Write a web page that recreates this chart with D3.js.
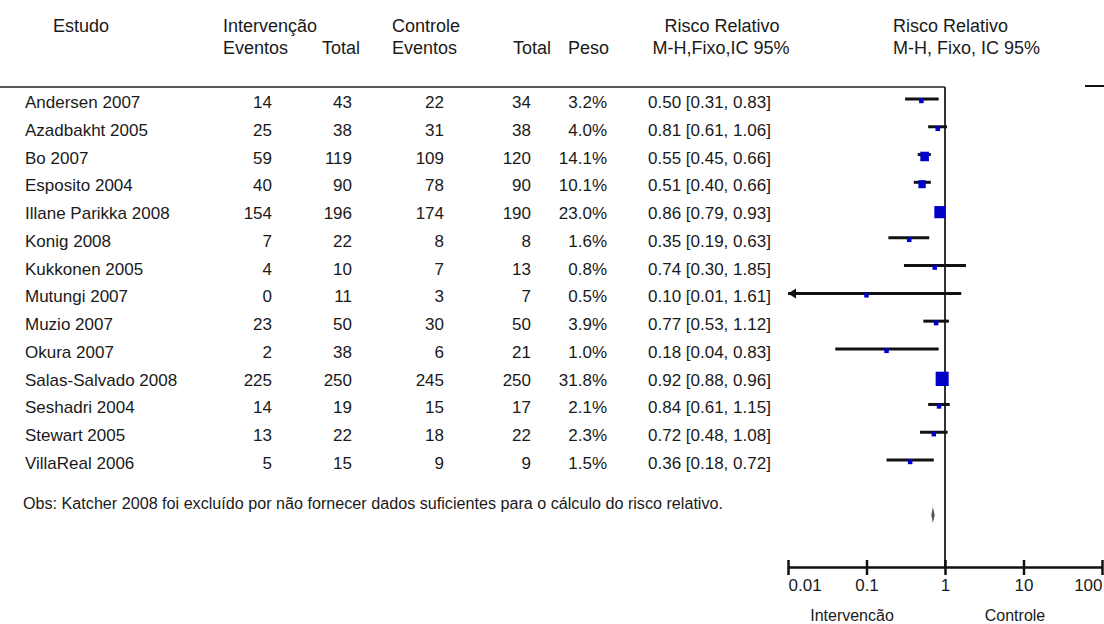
<html>
<head>
<meta charset="utf-8">
<title>Risco Relativo - forest plot</title>
<script src="https://d3js.org/d3.v7.min.js"></script>
<style>
body { margin: 0; background: #fff; }
text { font-family: "Liberation Sans", Arial, sans-serif; fill: #1a1a1a; }
</style>
</head>
<body>
<script>

// dados
var studies = ["Andersen 2007","Azadbakht 2005","Bo 2007","Esposito 2004","Illane Parikka 2008",
               "Konig 2008","Kukkonen 2005","Mutungi 2007","Muzio 2007","Okura 2007",
               "Salas-Salvado 2008","Seshadri 2004","Stewart 2005","VillaReal 2006"];
var evI  = [14, 25, 59, 40, 154, 7, 4, 0, 23, 2, 225, 14, 13, 5];
var totI = [43, 38, 119, 90, 196, 22, 10, 11, 50, 38, 250, 19, 22, 15];
var evC  = [22, 31, 109, 78, 174, 8, 7, 3, 30, 6, 245, 15, 18, 9];
var totC = [34, 38, 120, 90, 190, 8, 13, 7, 50, 21, 250, 17, 22, 9];
var peso = [3.2, 4.0, 14.1, 10.1, 23.0, 1.6, 0.8, 0.5, 3.9, 1.0, 31.8, 2.1, 2.3, 1.5];
var rr   = [0.50, 0.81, 0.55, 0.51, 0.86, 0.35, 0.74, 0.10, 0.77, 0.18, 0.92, 0.84, 0.72, 0.36];
var rrLo = [0.31, 0.61, 0.45, 0.40, 0.79, 0.19, 0.30, 0.01, 0.53, 0.04, 0.88, 0.61, 0.48, 0.18];
var rrHi = [0.83, 1.06, 0.66, 0.66, 0.93, 0.63, 1.85, 1.61, 1.12, 0.83, 0.96, 1.15, 1.08, 0.72];
var pooled = [0.70, 0.67, 0.74];   // estimativa, limite inferior, limite superior
var axisTicks = [0.01, 0.1, 1, 10, 100];

var svg = d3.select("body").append("svg")
            .attr("width", 1104)
            .attr("height", 624);

var x = d3.scaleLog().domain([0.01, 100]).range([788, 1102]);
var y = d3.scalePoint().domain(studies).range([108, 469]);   // linha de base do texto
var side = d3.scaleSqrt().domain([0, 31.8]).range([0, 13]);
var f2 = d3.format(".2f");

// cabecalho
var head = svg.append("g").style("font-size", "18px");
head.append("text").attr("x", 53).attr("y", 32).text("Estudo");
head.append("text").attr("x", 223).attr("y", 32).text("Intervenção");
head.append("text").attr("x", 223).attr("y", 54).text("Eventos");
head.append("text").attr("x", 360).attr("y", 54).attr("text-anchor", "end").text("Total");
head.append("text").attr("x", 392).attr("y", 32).text("Controle");
head.append("text").attr("x", 392).attr("y", 54).text("Eventos");
head.append("text").attr("x", 551).attr("y", 54).attr("text-anchor", "end").text("Total");
head.append("text").attr("x", 568).attr("y", 54).text("Peso");
head.append("text").attr("x", 722).attr("y", 32).attr("text-anchor", "middle").text("Risco Relativo");
head.append("text").attr("x", 721).attr("y", 54).attr("text-anchor", "middle").text("M-H,Fixo,IC 95%");
head.append("text").attr("x", 893).attr("y", 32).text("Risco Relativo");
head.append("text").attr("x", 893).attr("y", 54).text("M-H, Fixo, IC 95%");

// linhas de referencia
svg.append("line").attr("x1", 0).attr("x2", x(1)).attr("y1", 87).attr("y2", 87)
   .attr("stroke", "#222").attr("stroke-width", 1.5);
svg.append("line").attr("x1", 1085).attr("x2", 1104).attr("y1", 86).attr("y2", 86)
   .attr("stroke", "#111").attr("stroke-width", 2);
svg.append("line").attr("x1", x(1)).attr("x2", x(1)).attr("y1", 87).attr("y2", 567)
   .attr("stroke", "#333").attr("stroke-width", 2);

// tabela
var rows = svg.append("g").style("font-size", "17px")
              .selectAll("g").data(studies).enter().append("g")
              .attr("transform", function(d){ return "translate(0," + y(d) + ")"; });

rows.append("text").attr("x", 25).text(function(d){ return d; });
rows.append("text").attr("x", 272).attr("text-anchor", "end").text(function(d,i){ return evI[i]; });
rows.append("text").attr("x", 352).attr("text-anchor", "end").text(function(d,i){ return totI[i]; });
rows.append("text").attr("x", 444).attr("text-anchor", "end").text(function(d,i){ return evC[i]; });
rows.append("text").attr("x", 531).attr("text-anchor", "end").text(function(d,i){ return totC[i]; });
rows.append("text").attr("x", 607).attr("text-anchor", "end").text(function(d,i){ return peso[i].toFixed(1) + "%"; });
rows.append("text").attr("x", 648)
    .text(function(d,i){ return f2(rr[i]) + " [" + f2(rrLo[i]) + ", " + f2(rrHi[i]) + "]"; });

// intervalos de confianca
rows.append("line")
    .attr("x1", function(d,i){ return x(Math.max(rrLo[i], 0.01)); })
    .attr("x2", function(d,i){ return x(rrHi[i]); })
    .attr("y1", -9).attr("y2", -9)
    .attr("stroke", "#111").attr("stroke-width", 3);

// seta quando o limite sai da escala
rows.filter(function(d,i){ return rrLo[i] <= 0.01; })
    .append("path")
    .attr("d", function(){ var x0 = x(0.01); return "M" + x0 + ",-9 L" + (x0 + 8) + ",-14 L" + (x0 + 8) + ",-4 Z"; })
    .attr("fill", "#111");

// quadrados (area proporcional ao peso)
rows.append("rect")
    .attr("x", function(d,i){ return x(rr[i]) - Math.max(4.5, side(peso[i])) / 2; })
    .attr("y", function(d,i){ return -7.5 - Math.max(4.5, side(peso[i])) / 2; })
    .attr("width", function(d,i){ return Math.max(4.5, side(peso[i])); })
    .attr("height", function(d,i){ return Math.max(4.5, side(peso[i])) * 1.1; })
    .attr("fill", "#0000c8");

// estimativa combinada
var dy = 515;
svg.append("path")
   .attr("d", "M" + x(pooled[1]) + "," + dy + " L" + x(pooled[0]) + "," + (dy - 8) +
              " L" + x(pooled[2]) + "," + dy + " L" + x(pooled[0]) + "," + (dy + 8) + " Z")
   .attr("fill", "#555");

// observacao
svg.append("text").attr("x", 23).attr("y", 509)
   .style("font-size", "16px")
   .attr("textLength", 700).attr("lengthAdjust", "spacingAndGlyphs")
   .text("Obs: Katcher 2008 foi excluído por não fornecer dados suficientes para o cálculo do risco relativo.");

// eixo
var axis = d3.axisBottom(x).tickValues(axisTicks)
             .tickFormat(function(d){ return String(d); })
             .tickSizeOuter(0).tickSizeInner(8);
var gx = svg.append("g").attr("transform", "translate(0,567)").call(axis);
gx.select(".domain").attr("stroke", "#111").attr("stroke-width", 2.5);
gx.selectAll(".tick line").attr("y1", -7).attr("y2", 8).attr("stroke", "#111").attr("stroke-width", 2.5);
gx.selectAll(".tick text")
  .attr("y", 24).attr("dy", null)
  .style("font-size", "17px").style("font-family", "\"Liberation Sans\", Arial, sans-serif")
  .attr("fill", "#1a1a1a")
  .attr("text-anchor", function(d,i){ return i === 0 ? "start" : (i === axisTicks.length - 1 ? "end" : "middle"); });

svg.append("text").attr("x", 852).attr("y", 621).attr("text-anchor", "middle")
   .style("font-size", "16px").text("Intervencão");
svg.append("text").attr("x", 1015).attr("y", 621).attr("text-anchor", "middle")
   .style("font-size", "16px").text("Controle");

</script>
</body>
</html>
